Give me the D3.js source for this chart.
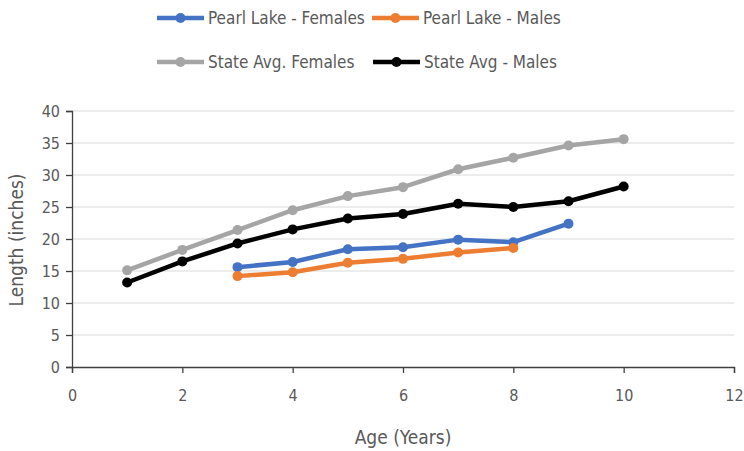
<!DOCTYPE html>
<html>
<head>
<meta charset="utf-8">
<script src="https://cdn.jsdelivr.net/npm/d3@7"></script>
<style>
  body { margin: 0; background: #fff; }
  svg text { font-family: "DejaVu Sans Condensed", "Liberation Sans Narrow", "Open Sans", sans-serif; }
</style>
</head>
<body>
<svg id="mainsvg" width="744" height="451"></svg>
<script>
// ages sampled for each series
const agesPearl = [3, 4, 5, 6, 7, 8, 9];
const agesPearlMales = [3, 4, 5, 6, 7, 8];
const agesState = [1, 2, 3, 4, 5, 6, 7, 8, 9, 10];

const pearlFemales = [15.6, 16.4, 18.4, 18.7, 19.9, 19.5, 22.4];
const pearlMales = [14.2, 14.8, 16.3, 16.9, 17.9, 18.6];
const stateFemales = [15.1, 18.3, 21.4, 24.5, 26.7, 28.1, 30.9, 32.7, 34.6, 35.6];
const stateMales = [13.2, 16.5, 19.3, 21.5, 23.2, 23.9, 25.5, 25.0, 25.9, 28.2];

const xTicks = [0, 2, 4, 6, 8, 10, 12];
const yTicks = [0, 5, 10, 15, 20, 25, 30, 35, 40];

const series = [
  { name: 'Pearl Lake - Females', ages: agesPearl, values: pearlFemales, color: '#4472c4' },
  { name: 'Pearl Lake - Males', ages: agesPearlMales, values: pearlMales, color: '#ed7d31' },
  { name: 'State Avg. Females', ages: agesState, values: stateFemales, color: '#a5a5a5' },
  { name: 'State Avg - Males', ages: agesState, values: stateMales, color: '#000000' }
];

const svg = d3.select('#mainsvg');
const margin = { top: 111, right: 10, bottom: 84, left: 72 };
const innerWidth = 744 - margin.left - margin.right;
const innerHeight = 451 - margin.top - margin.bottom;
const textColor = '#595959';

const xScale = d3.scaleLinear().domain([0, 12]).range([0, innerWidth]);
const yScale = d3.scaleLinear().domain([0, 40]).range([innerHeight, 0]);

const g = svg.append('g')
  .attr('transform', `translate(${margin.left}, ${margin.top})`);

// gridlines
g.append('g').selectAll('line').data(yTicks.slice(1)).join('line')
  .attr('x1', 0).attr('x2', innerWidth)
  .attr('y1', d => yScale(d)).attr('y2', d => yScale(d))
  .attr('stroke', '#d9d9d9').attr('stroke-width', 1);

const xAxis = d3.axisBottom(xScale).tickValues(xTicks).tickSize(6).tickPadding(17);
const yAxis = d3.axisLeft(yScale).tickValues(yTicks).tickSize(6).tickPadding(6);

const gx = g.append('g').attr('transform', `translate(0, ${innerHeight})`).call(xAxis);
const gy = g.append('g').call(yAxis);
[gx, gy].forEach(ax => {
  ax.attr('font-family', null);
  ax.select('.domain').attr('stroke', '#404040').attr('stroke-width', 1.3);
  ax.selectAll('.tick line').attr('stroke', '#404040').attr('stroke-width', 1.3);
  ax.selectAll('.tick text').attr('fill', textColor).attr('font-size', '16px');
});

const line = d3.line().x(d => xScale(d[0])).y(d => yScale(d[1]));

series.forEach(s => {
  const pts = s.ages.map((a, i) => [a, s.values[i]]);
  g.append('path').datum(pts)
    .attr('d', line)
    .attr('fill', 'none')
    .attr('stroke', s.color)
    .attr('stroke-width', 4.5)
    .attr('stroke-linejoin', 'round');
  g.append('g').selectAll('circle').data(pts).join('circle')
    .attr('cx', d => xScale(d[0]))
    .attr('cy', d => yScale(d[1]))
    .attr('r', 5)
    .attr('fill', s.color);
});

// axis titles
svg.append('text').text('Age (Years)')
  .attr('x', 403).attr('y', 444)
  .attr('text-anchor', 'middle')
  .attr('font-size', '19px')
  .attr('fill', textColor);

svg.append('text').text('Length (inches)')
  .attr('transform', 'translate(23, 240) rotate(-90)')
  .attr('text-anchor', 'middle')
  .attr('font-size', '19px')
  .attr('fill', textColor);

// legend
const legendPos = [
  { x: 157, y: 18 },
  { x: 372, y: 18 },
  { x: 157, y: 62 },
  { x: 373, y: 62 }
];
series.forEach((s, i) => {
  const p = legendPos[i];
  const lg = svg.append('g').attr('transform', `translate(${p.x}, ${p.y})`);
  lg.append('line').attr('x1', 0).attr('x2', 47).attr('y1', 0).attr('y2', 0)
    .attr('stroke', s.color).attr('stroke-width', 4.5);
  lg.append('circle').attr('cx', 23.5).attr('cy', 0).attr('r', 5).attr('fill', s.color);
  lg.append('text').text(s.name)
    .attr('x', 51).attr('y', 6)
    .attr('font-size', '17px')
    .attr('fill', textColor);
});
</script>
</body>
</html>
